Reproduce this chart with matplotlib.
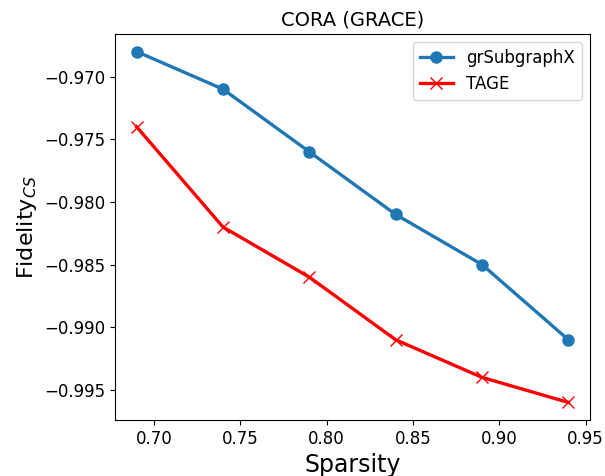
import matplotlib
matplotlib.use("Agg")
import matplotlib.pyplot as plt

sparsity = [0.69, 0.74, 0.79, 0.84, 0.89, 0.94]
grsubgraphx = [-0.968, -0.971, -0.976, -0.981, -0.985, -0.991]
tage = [-0.974, -0.982, -0.986, -0.991, -0.994, -0.996]

W, H = 605, 476
fig = plt.figure(figsize=(W / 100, H / 100), dpi=100)
left, right, top, bottom = 115, 590, 34, 420
ax = fig.add_axes([left / W, 1 - bottom / H, (right - left) / W, (bottom - top) / H])

ax.plot(sparsity, grsubgraphx, marker="o", color="#1f77b4", linewidth=2.4,
        markersize=8, label="grSubgraphX")
ax.plot(sparsity, tage, marker="x", color="red", linewidth=2.4,
        markersize=8, label="TAGE")

ax.set_xticks([0.70, 0.75, 0.80, 0.85, 0.90, 0.95])
ax.set_yticks([-0.970, -0.975, -0.980, -0.985, -0.990, -0.995])
ax.tick_params(labelsize=12)
ax.set_xlabel("Sparsity", fontsize=17)
ax.set_ylabel(r"Fidelity$_{CS}$", fontsize=16)
ax.set_title("CORA (GRACE)", fontsize=14)
ax.legend(loc="upper right", fontsize=12)

fig.savefig("out.png", dpi=100)
